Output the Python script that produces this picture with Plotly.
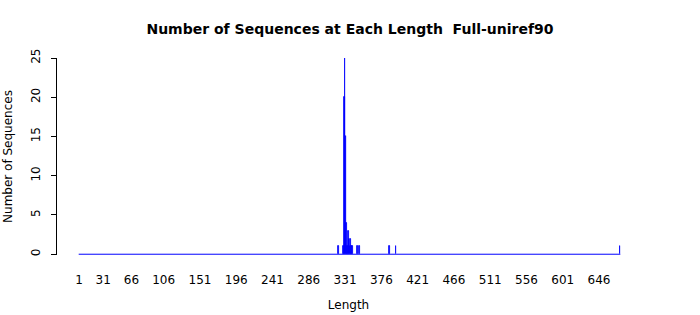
import plotly.graph_objects as go

# Data: sequence lengths with nonzero counts
lengths = [323, 329, 330, 331, 332, 333, 334, 335, 336, 337, 338, 339, 340, 346, 349, 386, 394, 672]
counts  = [1,   1,   20,  25,  15,  4,   1,   3,   2,   1,   2,   1,   1,   1,   1,   1,   1,   1]
length_range = [1, 672]
tick_vals = [1, 31, 66, 106, 151, 196, 241, 286, 331, 376, 421, 466, 511, 556, 601, 646]
tick_text = [str(v) for v in tick_vals]
y_ticks = [0, 5, 10, 15, 20, 25]

fig = go.Figure()
# zero-height bars show as a baseline in the original
fig.add_trace(go.Scatter(x=[length_range[0] - 0.4, length_range[1] + 0.4], y=[0, 0],
                         mode="lines", line=dict(color="blue", width=1), hoverinfo="skip",
                         showlegend=False))
fig.add_trace(go.Bar(x=lengths, y=counts, width=0.83,
                     marker=dict(color="blue", line=dict(color="blue", width=0.8)),
                     showlegend=False))

fig.update_layout(
    width=700, height=315,
    margin=dict(l=57, r=60, t=58, b=60, autoexpand=False),
    paper_bgcolor="white", plot_bgcolor="white",
    font=dict(family="DejaVu Sans", size=12, color="black"),
    title=dict(text="<b>Number of Sequences at Each Length  Full-uniref90</b>",
               x=0.5, xref="container", xanchor="center",
               y=1 - 29 / 315, yref="container", yanchor="middle",
               font=dict(size=14, family="DejaVu Sans", color="black")),
    bargap=0,
)
fig.update_xaxes(range=[-26.3, 696.8], tickvals=tick_vals, ticktext=tick_text,
                 showgrid=False, zeroline=False, showline=False, ticks="",
                 automargin=False,
                 ticklabelstandoff=16, tickfont=dict(size=12),
                 title=dict(text="Length", font=dict(size=12), standoff=14))
fig.update_yaxes(range=[-0.1, 25], tickvals=y_ticks, showgrid=False, zeroline=False,
                 showline=True, linecolor="black", linewidth=1,
                 automargin=False,
                 ticks="outside", ticklen=5, tickcolor="black", tickwidth=1,
                 tickangle=-90, ticklabelstandoff=6, tickfont=dict(size=12),
                 title=dict(text="Number of Sequences", font=dict(size=12), standoff=14))

fig.write_html("out.html")
